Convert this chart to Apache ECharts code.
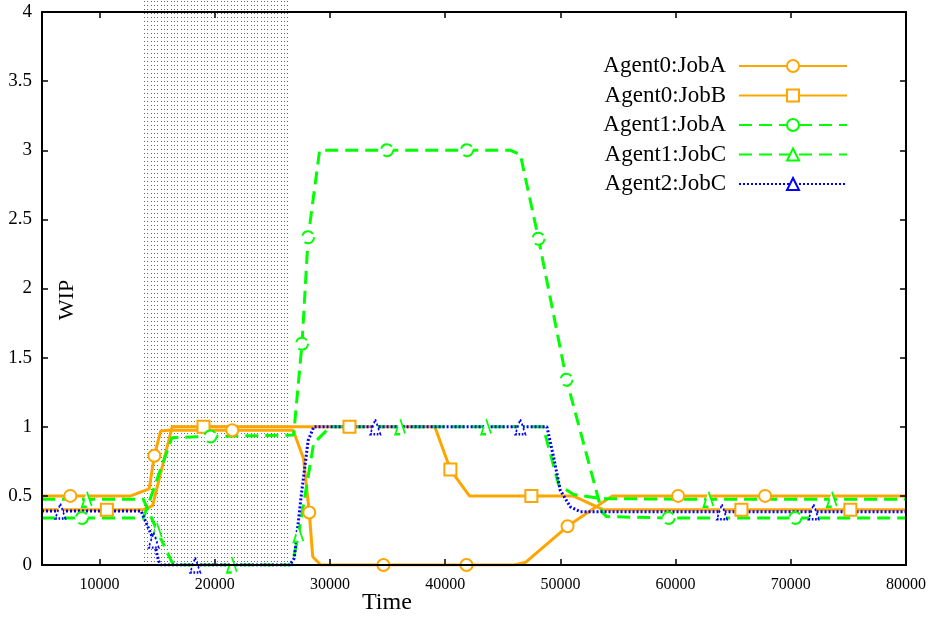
<!DOCTYPE html>
<html>
<head>
<meta charset="utf-8">
<script src="https://cdn.jsdelivr.net/npm/echarts@6/dist/echarts.min.js"></script>
<style>
  html, body { margin: 0; padding: 0; background: #fff; }
  #chart { width: 934px; height: 619px; }
</style>
</head>
<body>
<div id="chart"></div>
<script>
// Axis ticks
const xTicks = [10000, 20000, 30000, 40000, 50000, 60000, 70000, 80000];
const yTicks = [0, 0.5, 1, 1.5, 2, 2.5, 3, 3.5, 4];

// Time window shaded as a dotted band
const busySpan = [13800, 26500];

const seriesNames = ['Agent0:JobA', 'Agent0:JobB', 'Agent1:JobA', 'Agent1:JobC', 'Agent2:JobC'];

// Agent0:JobA  [time, wip]
const a0JobA = [
  [5000, 0.5], [7460, 0.5], [12700, 0.5], [14300, 0.55], [14750, 0.79], [15300, 0.97],
  [16000, 0.975], [21520, 0.975], [26800, 0.975], [27700, 0.77], [28200, 0.38], [28500, 0.06],
  [29200, 0], [34640, 0], [41850, 0], [46000, 0], [47000, 0.02], [50620, 0.28],
  [54500, 0.5], [60220, 0.5], [67770, 0.5], [80000, 0.5]
];
const a0JobAMarks = [7460, 14750, 21520, 28200, 34640, 41850, 50620, 60220, 67770];

// Agent0:JobB
const a0JobB = [
  [5000, 0.4], [10630, 0.4], [13800, 0.4], [14600, 0.43], [16300, 1.0], [19020, 1.0],
  [31690, 1.0], [39100, 1.0], [40450, 0.69], [42100, 0.5], [47480, 0.5], [51100, 0.5],
  [53700, 0.4], [65710, 0.4], [75170, 0.4], [80000, 0.4]
];
const a0JobBMarks = [10630, 19020, 31690, 40450, 47480, 65710, 75170];

// Agent1:JobA
const a1JobA = [
  [5000, 0.34], [8470, 0.34], [13800, 0.34], [16270, 0.92], [19620, 0.93], [26840, 0.94],
  [27570, 1.6], [28100, 2.37], [29100, 3.0], [34950, 3.0], [41890, 3.0], [45650, 3.0],
  [46520, 2.97], [48100, 2.36], [50530, 1.34], [53600, 0.385], [54000, 0.35],
  [59390, 0.34], [70390, 0.34], [80000, 0.34]
];
const a1JobAMarks = [8470, 19620, 27570, 28100, 34950, 41890, 48100, 50530, 59390, 70390];

// Agent1:JobC
const a1JobC = [
  [5000, 0.475], [8900, 0.475], [13800, 0.475], [14980, 0.25], [16280, 0.02], [16600, 0],
  [21490, 0], [26700, 0], [27270, 0.22], [28580, 0.88], [30030, 1.0], [36100, 1.0],
  [43560, 1.0], [48500, 1.0], [49850, 0.58], [51150, 0.51], [53600, 0.48],
  [62860, 0.475], [73570, 0.475], [80000, 0.475]
];
const a1JobCMarks = [8900, 14980, 21490, 27270, 36100, 43560, 62860, 73570];

// Agent2:JobC
const a2JobC = [
  [5000, 0.39], [6590, 0.39], [13600, 0.39], [14690, 0.18], [15120, 0.03], [15300, 0],
  [18300, 0], [26500, 0], [26900, 0.05], [27500, 0.5], [28100, 0.9], [28600, 1.0],
  [33930, 1.0], [46520, 1.0], [48830, 1.0], [49410, 0.78], [49990, 0.54], [50870, 0.42],
  [51740, 0.385], [64020, 0.385], [71980, 0.385], [80000, 0.385]
];
const a2JobCMarks = [6590, 14690, 18300, 33930, 46520, 64020, 71980];

// Dotted fill for the shaded band
const dots = document.createElement('canvas');
dots.width = 10; dots.height = 4;
(function () {
  const g = dots.getContext('2d');
  g.fillStyle = '#666';
  [1, 4, 7].forEach(function (x) { g.fillRect(x, 1, 1, 1); });
})();

const ORANGE = '#FFA500', GREEN = '#00FF00', BLUE = '#0000FF';
const DASH = [13, 7], DOT = [2, 2];
const FONT = '"Liberation Serif", "Times New Roman", serif';

function markSize(marks, size) {
  return function (v) { return marks.indexOf(v[0]) >= 0 ? size : 0; };
}

function lineSeries(name, data, marks, color, dash, symbol, size) {
  return {
    name: name,
    type: 'line',
    data: data,
    symbol: symbol,
    symbolSize: markSize(marks, size),
    showAllSymbol: true,
    animation: false,
    z: 3,
    lineStyle: { color: color, width: 3, type: dash, cap: 'butt' },
    itemStyle: { color: '#fff', borderColor: color, borderWidth: 2, borderType: dash === 'solid' ? 'solid' : dash },
    emphasis: { disabled: true }
  };
}

const chart = echarts.init(document.getElementById('chart'), null, { renderer: 'canvas' });

const axisCommon = {
  type: 'value',
  z: 5,
  axisLine: { show: true, onZero: false, lineStyle: { color: '#000', width: 2 } },
  axisTick: { show: true, inside: true, length: 6, lineStyle: { color: '#000', width: 1.5 } },
  splitLine: { show: false }
};

const plain = function (v) { return String(v); };

chart.setOption({
  animation: false,
  backgroundColor: '#fff',
  grid: { left: 42, right: 28, top: 12, bottom: 54, outerBoundsMode: 'none', containLabel: false },
  xAxis: [
    Object.assign({}, axisCommon, {
      position: 'bottom', min: 5000, max: 80000,
      axisTick: Object.assign({}, axisCommon.axisTick, { customValues: xTicks }),
      axisLabel: { customValues: xTicks, formatter: plain, color: '#000', fontFamily: FONT, fontSize: 16, margin: 12,
        showMinLabel: true, showMaxLabel: true }
    }),
    Object.assign({}, axisCommon, {
      position: 'top', min: 5000, max: 80000,
      axisTick: Object.assign({}, axisCommon.axisTick, { customValues: xTicks }),
      axisLabel: { show: false }
    })
  ],
  yAxis: [
    Object.assign({}, axisCommon, {
      position: 'left', min: 0, max: 4,
      axisTick: Object.assign({}, axisCommon.axisTick, { customValues: yTicks }),
      axisLabel: { customValues: yTicks, formatter: plain, color: '#000', fontFamily: FONT, fontSize: 19, margin: 10 }
    }),
    Object.assign({}, axisCommon, {
      position: 'right', min: 0, max: 4,
      axisTick: Object.assign({}, axisCommon.axisTick, { customValues: yTicks }),
      axisLabel: { show: false }
    })
  ],
  legend: {
    data: seriesNames,
    orient: 'vertical',
    align: 'right',
    right: 86,
    top: 54.5,
    padding: 0,
    itemGap: 6.5,
    itemWidth: 108,
    itemHeight: 15,
    selectedMode: false,
    textStyle: { color: '#000', fontFamily: FONT, fontSize: 23, padding: [0, 8, 0, 0] }
  },
  graphic: [
    { type: 'text', left: 362, top: 591, z: 10,
      style: { text: 'Time', fill: '#000', font: '24px ' + FONT } },
    { type: 'text', x: 78, y: 300, rotation: Math.PI / 2, z: 10,
      style: { text: 'WIP', fill: '#000', font: '22px ' + FONT, align: 'center', verticalAlign: 'bottom' } }
  ],
  series: [
    {
      type: 'custom',
      silent: true,
      clip: false,
      z: 1,
      data: [busySpan],
      encode: { x: [0, 1] },
      renderItem: function (params, api) {
        const x0 = api.coord([api.value(0), 0])[0];
        const x1 = api.coord([api.value(1), 0])[0];
        const cs = params.coordSys;
        return {
          type: 'rect',
          shape: { x: x0, y: cs.y - 12, width: x1 - x0, height: cs.height + 16 },
          style: { fill: { image: dots, repeat: 'repeat' }, stroke: null }
        };
      }
    },
    lineSeries(seriesNames[0], a0JobA, a0JobAMarks, ORANGE, 'solid', 'circle', 12),
    lineSeries(seriesNames[1], a0JobB, a0JobBMarks, ORANGE, 'solid', 'rect', 12),
    lineSeries(seriesNames[2], a1JobA, a1JobAMarks, GREEN, DASH, 'circle', 12),
    lineSeries(seriesNames[3], a1JobC, a1JobCMarks, GREEN, DASH, 'triangle', [10, 15]),
    lineSeries(seriesNames[4], a2JobC, a2JobCMarks, BLUE, DOT, 'triangle', [10, 15])
  ]
});
</script>
</body>
</html>
